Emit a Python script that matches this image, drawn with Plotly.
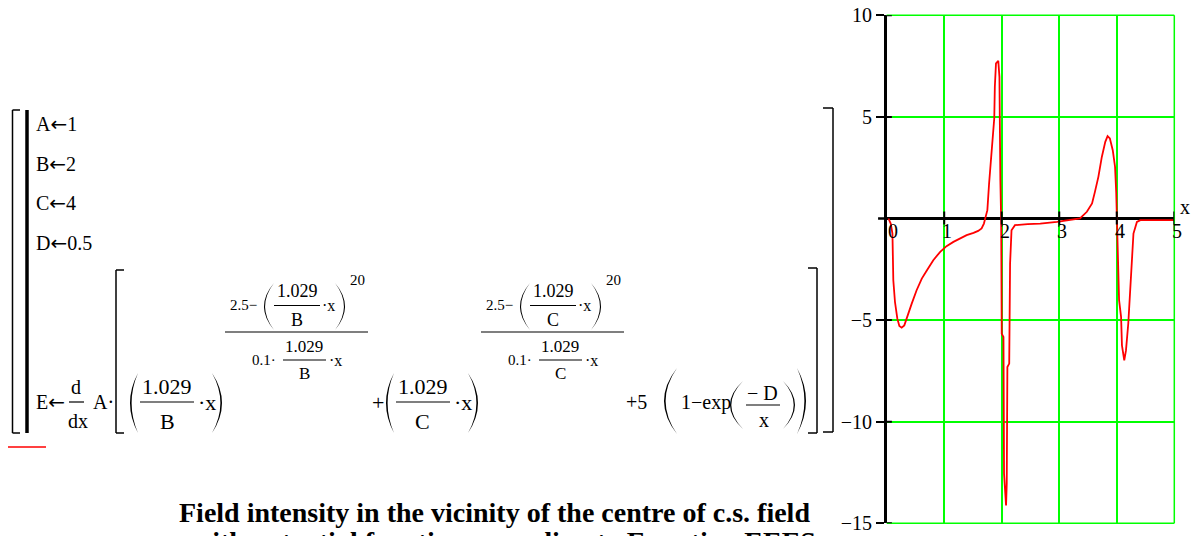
import plotly.graph_objects as go

# Sampled field intensity E(x) along the axis
x_vals = [0.03, 0.07, 0.10, 0.105, 0.115, 0.144, 0.185, 0.22, 0.26, 0.306,
          0.36, 0.435, 0.52, 0.61, 0.70, 0.81, 0.93, 1.04, 1.16, 1.27,
          1.39, 1.51, 1.59, 1.65, 1.69, 1.72, 1.75, 1.78, 1.81, 1.84,
          1.87, 1.88, 1.90, 1.94, 1.96, 1.976, 1.99, 2.0, 2.03, 2.04,
          2.075, 2.087, 2.098, 2.13, 2.145, 2.17, 2.23, 2.45, 2.67, 2.96,
          3.19, 3.36, 3.48, 3.57, 3.62, 3.68, 3.74, 3.80, 3.84, 3.88,
          3.93, 3.97, 3.99, 4.0, 4.02, 4.04, 4.075, 4.09, 4.13, 4.16,
          4.20, 4.23, 4.26, 4.29, 4.35, 4.41, 4.7, 5.0]
e_vals = [0, -0.25, -0.74, -2.05, -3.04, -4.11, -4.93, -5.29, -5.37, -5.26,
          -4.85, -4.19, -3.53, -2.96, -2.55, -2.05, -1.64, -1.36, -1.15, -0.99,
          -0.82, -0.71, -0.61, -0.49, -0.25, 0.08, 0.41, 1.72, 2.96, 4.02,
          4.93, 6.48, 7.64, 7.76, 6.97, 1.89, -0.08, -5.67, -5.83, -12.56,
          -14.12, -13.05, -7.31, -7.14, -2.22, -0.58, -0.33, -0.28, -0.25, -0.17,
          -0.08, 0.0, 0.33, 0.74, 1.31, 2.05, 3.03, 3.77, 4.05, 3.94,
          3.36, 2.54, 1.31, -0.08, -2.88, -4.02, -4.85, -6.24, -6.98, -6.49,
          -5.17, -3.62, -1.95, -0.74, -0.17, -0.08, -0.08, -0.08]

x_ticks = [0, 1, 2, 3, 4, 5]
y_ticks = [-15, -10, -5, 5, 10]

W, H = 1192, 536
SERIF = "Liberation Serif"
GREEN = "#00ff00"
ARROW = '<span style="font-family:DejaVu Sans;font-size:20px">←</span>'


def fx(p):
    return p / W


def fy(p):
    return 1 - p / H


annotations = []
shapes = []


def text(s, x, y, size=20, anchor="left", bold=False):
    annotations.append(dict(
        text=f"<b>{s}</b>" if bold else s, x=fx(x), y=fy(y),
        xref="paper", yref="paper", xanchor=anchor, yanchor="middle",
        showarrow=False, font=dict(family=SERIF, size=size, color="black")))


def seg(x0, y0, x1, y1, width=1.3, color="black"):
    shapes.append(dict(type="line", xref="paper", yref="paper",
                       x0=fx(x0), y0=fy(y0), x1=fx(x1), y1=fy(y1),
                       line=dict(color=color, width=width)))


def bar(x0, x1, y):
    seg(x0, y, x1, y, 1.2)


def square_bracket(x, y0, y1, serif_to, width=1.5):
    seg(x, y0, x, y1, width)
    seg(x, y0, serif_to, y0, width)
    seg(x, y1, serif_to, y1, width)


def paren(x_end, x_bulge, y0, y1, t=1.6):
    ym = (y0 + y1) / 2
    c_out = 2 * x_bulge - x_end
    inner = x_bulge + t if x_bulge < x_end else x_bulge - t
    c_in = 2 * inner - x_end
    path = (f"M {fx(x_end)},{fy(y0)} Q {fx(c_out)},{fy(ym)} {fx(x_end)},{fy(y1)} "
            f"Q {fx(c_in)},{fy(ym)} {fx(x_end)},{fy(y0)} Z")
    shapes.append(dict(type="path", xref="paper", yref="paper", path=path,
                       fillcolor="black", line=dict(width=0)))


def power_term(dx, letter):
    # (1.029/L * x) ^ ((2.5 - (1.029/L * x)^20) / (0.1 * 1.029/L * x))
    paren(138 + dx, 130 + dx, 373, 433)
    text("1.029", 167 + dx, 386.5, 22, "center")
    bar(140 + dx, 194 + dx, 402)
    text(letter, 167 + dx, 421, 22, "center")
    text("·x", 196 + dx, 402, 22)
    paren(212 + dx, 222 + dx, 373, 433)
    text("2.5−", 228 + dx, 305, 15)
    paren(274 + dx, 264 + dx, 283, 330, 1.1)
    text("1.029", 297 + dx, 291, 18, "center")
    bar(274 + dx, 320 + dx, 305.5)
    text(letter, 297 + dx, 319.5, 18, "center")
    text("·x", 320 + dx, 305, 16)
    paren(335 + dx, 345 + dx, 283, 330, 1.1)
    text("20", 357 + dx, 280, 15, "center")
    bar(225 + dx, 368 + dx, 332)
    text("0.1·", 250 + dx, 360, 15)
    text("1.029", 304 + dx, 346, 17, "center")
    bar(283 + dx, 326 + dx, 360)
    text(letter, 304 + dx, 373, 17, "center")
    text("·x", 327 + dx, 360, 16)


# program block
square_bracket(12.5, 110, 433, 20)
seg(27, 110, 27, 433, 3.5)
seg(8, 447, 46, 447, 1.6, "#ff0000")
text(f"A{ARROW}1", 34, 124)
text(f"B{ARROW}2", 34, 163.5)
text(f"C{ARROW}4", 34, 203)
text(f"D{ARROW}0.5", 34, 243)
text(f"E{ARROW}", 34, 401.5)
text("d", 76, 387, 20, "center")
bar(69, 84, 402)
text("dx", 78, 421, 20, "center")
text("A·", 91, 401.5)
square_bracket(116, 270, 433, 124)

power_term(0, "B")
text("+", 377.5, 402, 22, "center")
power_term(256, "C")

text("+5", 624, 402, 20)
paren(677, 664, 368, 434)
text("1−exp", 679, 402, 20)
paren(743, 730, 381, 429, 1.3)
text("− D", 762, 393, 20, "center")
bar(746, 780, 405)
text("x", 764, 420, 20, "center")
paren(783, 795, 381, 429, 1.3)
paren(797, 806, 368, 434)
square_bracket(817, 268, 433, 808)
square_bracket(833, 108, 432, 823)

# caption (second line runs off the bottom edge)
text("Field intensity in the vicinity of the centre of c.s. field", 494.5, 512, 28, "center", True)
text("with potential function according to Equation EEES", 504, 541, 28, "center", True)

# graph frame and axis furniture
frame = dict(color=GREEN, width=1.5)
shapes.append(dict(type="line", xref="x domain", yref="y domain", x0=0, x1=1, y0=1, y1=1, line=frame))
shapes.append(dict(type="line", xref="x domain", yref="y domain", x0=0, x1=1, y0=0, y1=0, line=frame))
shapes.append(dict(type="line", xref="x domain", yref="y domain", x0=1, x1=1, y0=0, y1=1, line=frame))
shapes.append(dict(type="line", xref="x domain", yref="y", x0=-0.03, x1=0, y0=0, y1=0,
                   line=dict(color="black", width=2.5)))
for xv in x_ticks[1:]:
    shapes.append(dict(type="line", xref="x", yref="y", x0=xv, x1=xv, y0=-0.3, y1=0.35,
                       line=dict(color="black", width=2), layer="above"))
for yv in y_ticks:
    shapes.append(dict(type="line", xref="x", yref="y", x0=0, x1=0.09, y0=yv, y1=yv,
                       line=dict(color="black", width=2), layer="above"))
for xv in x_ticks:
    annotations.append(dict(text=str(xv), x=xv, y=0, xref="x", yref="y",
                            xanchor="center", yanchor="middle", yshift=-12,
                            xshift=6 if xv == 0 else 3, showarrow=False,
                            font=dict(family=SERIF, size=20, color="black")))
text("x", 1185, 207, 20, "center")

fig = go.Figure()
fig.add_trace(go.Scatter(x=x_vals, y=e_vals, mode="lines",
                         line=dict(color="#ff0000", width=1.8),
                         hoverinfo="skip", showlegend=False))

fig.update_layout(
    width=W, height=H, margin=dict(l=0, r=0, t=0, b=0, pad=0, autoexpand=False),
    paper_bgcolor="white", plot_bgcolor="white",
    font=dict(family=SERIF, color="black"),
    xaxis=dict(domain=[fx(886.7), fx(1174.3)], range=[0, 5], tickvals=x_ticks,
               showticklabels=False, ticks="", showgrid=True, gridcolor=GREEN,
               gridwidth=1.5, zeroline=False, showline=False, fixedrange=True,
               automargin=False),
    yaxis=dict(domain=[fy(523.3), fy(15.3)], range=[-15, 10], tickvals=y_ticks,
               ticks="outside", ticklen=8, tickwidth=2, tickcolor="black",
               showline=True, linecolor="black", linewidth=2.5,
               showgrid=True, gridcolor=GREEN, gridwidth=1.5,
               zeroline=True, zerolinecolor="black", zerolinewidth=2.5,
               tickfont=dict(family=SERIF, size=20, color="black"), fixedrange=True,
               automargin=False),
    shapes=shapes, annotations=annotations,
)

fig.write_html("out.html", config={"displayModeBar": False})
